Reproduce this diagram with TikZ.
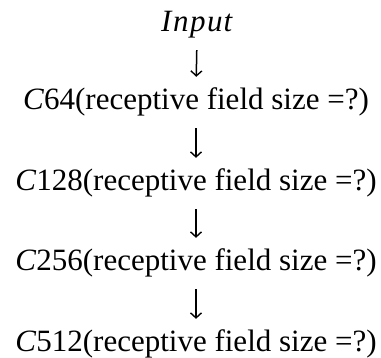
\documentclass[tikz,border=0pt]{standalone}
\usepackage{fontspec}
\setmainfont{Liberation Serif}
\usetikzlibrary{arrows.meta}
\begin{document}
\begin{tikzpicture}[x=1pt,y=1pt,
  layer/.style={anchor=base,inner sep=0pt,text height=20pt,text depth=6pt,
    font=\fontsize{31}{36}\selectfont},
  flow/.style={line width=1.5pt,
    -{Straight Barb[length=5pt,width=11pt,line width=1.4pt]}},
  ]
\useasboundingbox (0,0) rectangle (381,-358);
\node[layer] (in)   at (197,-32)  {\textit{I\kern1.5pt n\kern1.5pt p\kern1.5pt u\kern1pt t}};
\node[layer] (c64)  at (196,-110) {\textit{C}64(receptive field size =?)};
\node[layer] (c128) at (196,-191) {\textit{C}128(receptive field size =?)};
\node[layer] (c256) at (196,-271) {\textit{C}256(receptive field size =?)};
\node[layer] (c512) at (196,-352) {\textit{C}512(receptive field size =?)};
\foreach \a/\b in {in/c64,c64/c128,c128/c256,c256/c512}
  \draw[flow,shorten <=12pt,shorten >=13pt] (\a.south) -- (\b.north);
\end{tikzpicture}
\end{document}
